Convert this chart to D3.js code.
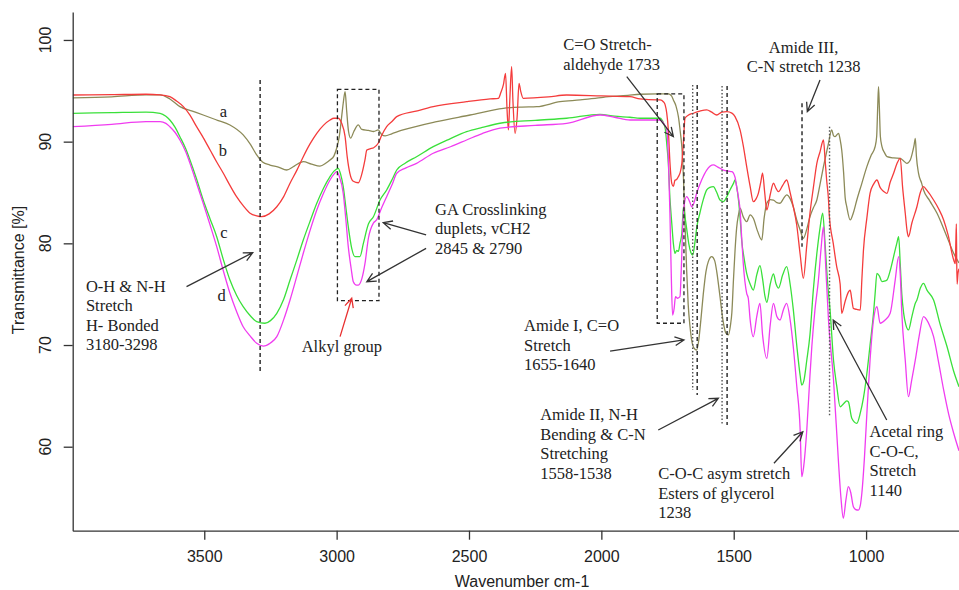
<!DOCTYPE html>
<html>
<head>
<meta charset="utf-8">
<script src="https://cdn.jsdelivr.net/npm/d3@7"></script>
<style>
  body { margin: 0; background: #fff; }
  svg { display: block; }
</style>
</head>
<body>
<div id="chart"></div>
<script>
// FTIR spectra, [wavenumber cm-1, transmittance %]
const seriesA = [[3997,94.3],[3850,94.4],[3720,94.6],[3667,94.6],[3630,94.2],[3592,93.44],[3545,93.0],[3504,92.62],[3450,92.1],[3403,91.64],[3353,90.66],[3325,89.7],[3302,88.69],[3280,88.0],[3252,87.7],[3220,87.5],[3189,87.21],[3160,87.6],[3126,88.03],[3095,87.8],[3063,87.6],[3040,87.9],[3025,88.2],[3010,88.6],[3000,89.35],[2990,90.5],[2981,92.46],[2975,93.8],[2968,94.92],[2962,93.0],[2955,91.0],[2947,90.35],[2935,91.0],[2918,91.64],[2905,91.2],[2880,91.1],[2860,91.0],[2843,91.15],[2830,90.7],[2817,90.56],[2790,90.8],[2749,91.15],[2622,91.97],[2496,92.62],[2370,93.28],[2300,93.4],[2244,93.44],[2156,93.93],[2080,94.1],[1993,94.36],[1900,94.55],[1854,94.66],[1790,94.69],[1747,94.69],[1735,94.5],[1728,94.1],[1718,93.5],[1709,92.46],[1702,91],[1696,89.5],[1690,86.5],[1684,82],[1678,77.5],[1672,74],[1665,71.8],[1659,70.5],[1650,69.7],[1640,69.51],[1633,70.3],[1624,72.5],[1615,75],[1605,77.2],[1596,78.2],[1583,78.69],[1572,78.3],[1564,77.2],[1552,74.8],[1541,72.5],[1530,71.2],[1520,70.99],[1512,72.0],[1507,73.2],[1501,76.39],[1495,79.3],[1489,81.5],[1482,82.8],[1476,83.45],[1464,82.6],[1451,82.13],[1438,82.8],[1426,82.46],[1410,81.2],[1394,80.33],[1385,82.5],[1375,83.94],[1362,84.3],[1350,84.26],[1337,84.0],[1325,83.94],[1312,84.4],[1300,84.76],[1287,84.4],[1275,83.6],[1262,82.3],[1249,81.31],[1237,80.5],[1224,81.4],[1212,82.62],[1199,83.5],[1186,84.26],[1174,85.8],[1161,87.54],[1149,89.0],[1142,89.84],[1130,91.15],[1123,90.6],[1117,90.49],[1104,90.82],[1098,90.2],[1092,89.18],[1085,87],[1079,84.5],[1073,83.6],[1060,82.3],[1048,83.0],[1035,84.26],[1016,85.9],[997,87.54],[980,88.7],[966,89.5],[960,90.5],[956,93.5],[953,95.41],[950,93.5],[946,90.5],[940,89.51],[930,88.9],[921,88.52],[896,88.4],[871,88.36],[858,88.1],[846,87.87],[833,88.2],[826,88.8],[819,89.6],[814,90.33],[810,88.6],[802,86.9],[790,85.9],[783,85.25],[760,84.2],[732,82.96],[700,81.0],[669,79.02],[649,78.07]];

const seriesB = [[3997,94.59],[3850,94.62],[3720,94.66],[3667,94.6],[3630,94.42],[3605,94.0],[3579,93.44],[3554,92.6],[3529,91.47],[3504,90.4],[3478,89.18],[3453,88.0],[3428,86.89],[3403,85.7],[3378,84.59],[3353,83.7],[3327,82.96],[3302,82.7],[3283,82.62],[3255,82.9],[3226,83.6],[3200,84.6],[3176,85.91],[3150,87.2],[3126,88.52],[3100,89.8],[3075,90.82],[3050,91.6],[3025,92.13],[3010,92.3],[2994,92.3],[2981,91.8],[2968,90.49],[2960,88.5],[2950,86.89],[2937,86.1],[2918,85.96],[2905,86.8],[2893,88.2],[2886,89.18],[2874,89.3],[2860,89.4],[2843,89.84],[2830,90.6],[2811,91.47],[2790,92.0],[2773,92.46],[2700,93.0],[2635,93.44],[2509,93.93],[2420,94.2],[2389,94.26],[2380,94.8],[2370,95.6],[2362,96.72],[2356,93.0],[2351,91.15],[2346,94],[2339,97.38],[2334,94],[2326,90.82],[2318,92.5],[2311,95.74],[2305,95.0],[2295,94.26],[2200,94.4],[2131,94.59],[2000,94.5],[1892,94.42],[1854,94.2],[1790,94.1],[1778,94.1],[1765,93.9],[1759,93.61],[1753,92.8],[1747,91.15],[1741,88.0],[1734,85.9],[1728,85.6],[1722,86.2],[1715,86.3],[1709,86.56],[1703,86.9],[1696,87.87],[1690,90.0],[1684,92.3],[1672,92.6],[1653,92.79],[1628,93.0],[1602,93.12],[1583,92.9],[1564,92.62],[1545,92.9],[1526,92.95],[1507,92.8],[1495,92.46],[1476,91.15],[1464,89.6],[1451,87.54],[1438,85.6],[1426,84.1],[1415,84.4],[1407,84.92],[1398,86.0],[1391,86.89],[1383,85.0],[1375,83.28],[1362,84.8],[1350,85.91],[1340,85.4],[1331,85.08],[1315,85.7],[1300,86.23],[1287,85.0],[1275,83.6],[1262,81.8],[1249,78.9],[1237,76.56],[1224,79.8],[1212,82.96],[1199,85.5],[1186,87.87],[1174,89.0],[1161,90.16],[1155,88.3],[1149,86.23],[1142,84.3],[1139,82.79],[1124,80.0],[1111,77.7],[1098,76.0],[1092,73.12],[1079,74.3],[1067,75.2],[1060,75.4],[1054,74.5],[1048,73.6],[1035,73.5],[1022,73.44],[1016,76.39],[1010,79.3],[997,82.5],[985,84.92],[972,85.8],[959,86.23],[947,85.5],[940,85.25],[928,85.0],[921,84.92],[909,86.0],[896,86.89],[884,87.8],[871,88.36],[862,85.5],[852,82.96],[845,81.2],[840,80.65],[827,82.0],[808,83.6],[795,85.0],[783,85.57],[770,85.2],[745,84.26],[726,83.4],[707,82.3],[690,80.8],[669,78.36],[663,78.0],[661,80.0],[659,81.9],[657.5,78.0],[656,76.0],[653,77.0],[649,77.5]];

const seriesC = [[3997,92.79],[3850,92.85],[3720,92.9],[3667,92.79],[3645,92.5],[3630,92.13],[3610,91.4],[3592,90.49],[3570,89.3],[3554,88.2],[3530,86.4],[3504,84.26],[3478,82.4],[3453,80.65],[3428,78.4],[3403,76.39],[3378,74.9],[3353,73.77],[3327,72.9],[3302,72.3],[3271,72.14],[3250,72.4],[3226,73.12],[3200,74.5],[3176,76.39],[3150,78.4],[3126,80.33],[3100,82.2],[3075,83.94],[3050,85.4],[3025,86.56],[3010,87.1],[2994,87.38],[2985,86.8],[2975,85.57],[2965,83.5],[2956,81.64],[2943,79.5],[2931,78.69],[2912,78.69],[2899,80.0],[2880,81.9],[2861,82.62],[2836,84.26],[2811,85.25],[2790,86.3],[2773,87.21],[2740,87.9],[2698,88.52],[2635,89.51],[2570,90.3],[2509,90.98],[2450,91.4],[2383,91.81],[2250,92.1],[2131,92.3],[2005,92.69],[1950,92.5],[1892,92.4],[1854,92.3],[1778,92.3],[1765,91.8],[1759,91.32],[1753,89.8],[1747,87.87],[1741,84.5],[1734,81.97],[1728,80.0],[1722,79.02],[1715,79.3],[1709,79.2],[1703,80.0],[1696,80.99],[1690,83.6],[1684,82.6],[1678,81.5],[1670,80.0],[1662,79.1],[1655,78.85],[1646,80.2],[1640,81.5],[1628,82.96],[1615,84.3],[1602,85.25],[1590,85.5],[1577,85.57],[1564,85.0],[1552,84.26],[1539,84.1],[1526,84.6],[1514,85.25],[1501,85.9],[1495,86.23],[1489,85.6],[1482,84.26],[1476,82.5],[1470,80.33],[1460,78.4],[1451,77.05],[1438,76.0],[1426,75.4],[1413,76.9],[1401,77.8],[1391,76.5],[1382,74.8],[1375,74.2],[1362,76.0],[1350,77.0],[1340,76.0],[1331,75.6],[1315,76.9],[1300,77.7],[1287,76.0],[1275,73.5],[1262,70.0],[1249,67.0],[1243,66.07],[1235,66.5],[1224,68.5],[1212,71.0],[1199,75.5],[1186,79.0],[1174,81.5],[1164,82.96],[1155,80.0],[1145,76.0],[1136,73.44],[1123,68.5],[1111,66.0],[1098,63.93],[1086,64.2],[1073,64.5],[1067,64.43],[1054,62.8],[1035,62.3],[1022,63.3],[1010,64.8],[997,67.2],[985,70.0],[972,73.12],[966,75.0],[959,77.05],[950,76.8],[940,76.23],[928,76.3],[921,76.39],[909,77.3],[896,78.7],[884,80.0],[877,80.65],[871,78.0],[865,75.0],[858,73.12],[850,72.0],[840,71.48],[827,72.8],[814,74.1],[808,74.43],[795,75.6],[783,76.07],[770,75.4],[745,74.43],[720,72.0],[694,69.83],[670,67.5],[649,65.9]];

const seriesD = [[3997,91.47],[3850,91.7],[3720,91.97],[3667,91.97],[3645,91.8],[3630,91.47],[3610,90.9],[3592,90.16],[3570,89.0],[3554,87.87],[3530,86.0],[3504,83.94],[3478,81.8],[3453,79.67],[3428,77.3],[3403,75.09],[3378,73.3],[3353,71.8],[3327,70.9],[3302,70.17],[3277,69.9],[3250,70.2],[3226,70.82],[3200,72.5],[3176,74.43],[3150,76.8],[3126,79.02],[3100,81.3],[3075,83.28],[3050,84.9],[3025,86.23],[3010,86.8],[3000,87.05],[2990,86.6],[2975,84.92],[2965,82.3],[2956,79.67],[2945,77.5],[2937,76.23],[2925,75.9],[2918,75.9],[2905,76.5],[2893,78.0],[2880,80.5],[2861,82.0],[2849,82.3],[2830,83.5],[2811,84.59],[2790,85.8],[2773,86.89],[2740,87.4],[2698,87.87],[2635,88.86],[2570,89.5],[2509,90.16],[2450,90.8],[2383,91.32],[2250,91.6],[2131,91.8],[2005,92.62],[1950,92.4],[1892,92.13],[1854,92.13],[1778,92.13],[1765,91.8],[1753,91.15],[1747,88.5],[1741,83.0],[1736,77.0],[1731,72.95],[1725,73.6],[1720,74.75],[1712,74.6],[1703,74.75],[1698,77.5],[1692,82.0],[1688,83.6],[1678,84.59],[1665,84.0],[1659,83.6],[1650,84.0],[1640,84.92],[1620,86.3],[1602,87.21],[1577,87.71],[1560,87.5],[1539,87.21],[1520,87.1],[1507,87.05],[1495,86.5],[1489,85.57],[1482,84.5],[1476,83.28],[1470,80.6],[1464,78.04],[1451,75.09],[1445,74.6],[1438,72.5],[1426,70.82],[1413,72.8],[1401,74.1],[1391,71.0],[1375,68.69],[1362,72.0],[1350,74.1],[1337,72.8],[1325,72.46],[1312,73.5],[1300,74.1],[1287,72.5],[1275,69.83],[1262,66.0],[1249,61.64],[1243,57.05],[1236,58.0],[1224,61.64],[1212,67.0],[1205,69.83],[1193,73.5],[1180,76.39],[1170,79.5],[1161,81.64],[1152,77.5],[1142,72.46],[1123,66.56],[1104,58.37],[1095,55.0],[1086,52.96],[1076,54.8],[1067,56.07],[1058,55.5],[1048,54.1],[1038,53.8],[1029,53.77],[1022,54.2],[1016,55.42],[1006,59.0],[997,63.28],[985,68.5],[972,72.46],[959,73.77],[947,72.14],[928,72.46],[909,73.12],[890,76.39],[877,78.69],[871,77.0],[865,73.12],[852,68.5],[840,64.92],[828,66.5],[814,68.53],[800,70.8],[783,72.79],[765,72.2],[745,70.82],[726,68.3],[707,65.58],[688,63.2],[669,61.32],[649,59.6]];

const seriesNames = ["a", "b", "c", "d"];
const seriesColors = ["#8c8a58", "#f43c3c", "#3ae03a", "#f03cf0"];
const xTicks = [3500, 3000, 2500, 2000, 1500, 1000];
const yTicks = [60, 70, 80, 90, 100];

// curve letters [name, wn, T]
const curveLabels = [["a", 3428, 92.43], ["b", 3430, 88.59], ["c", 3426, 80.48], ["d", 3434, 74.28]];

// band marker lines [wn, T top, T bottom, kind]
const bandLines = [[3289, 96.07, 67.25, "dash"], [1655, 95.57, 65.58, "dot"], [1638, 95.57, 65.08, "dash"],
                   [1544, 95.48, 62.13, "dot"], [1525, 95.48, 62.13, "dash"], [1242, 93.77, 79.67, "dash"],
                   [1138, 91.47, 62.95, "dot"]];
// dashed boxes [wn left, wn right, T top, T bottom]
const bandBoxes = [[2997, 2840, 95.15, 74.36], [1789, 1688, 94.69, 72.14]];

// arrows [wn from, T from, wn to, T to, colour]
const arrows = [[3567, 75.74, 3317, 79.08, "#333"], [2662, 80.82, 2824, 82.03, "#333"], [2662, 79.51, 2886, 76.23, "#333"],
                [2987, 70.82, 2943, 74.6, "#e83030"], [1904, 96.39, 1728, 90.49, "#333"], [1174, 96.07, 1222, 92.95, "#333"],
                [1967, 69.41, 1688, 70.5, "#333"], [1785, 61.64, 1558, 64.76, "#333"], [1348, 58.37, 1239, 61.47, "#333"],
                [922, 62.63, 1124, 72.46, "#333"]];

// notes [wn, T of first baseline, anchor, lines]
const notes = [
  [2144, 98.97, "start", ["C=O Stretch-", "aldehyde 1733"]],
  [1236, 98.74, "middle", ["Amide III,", "C-N stretch 1238"]],
  [2628, 82.79, "start", ["GA Crosslinking", "duplets, vCH2", "2845 & 2790"]],
  [3132, 69.29, "start", ["Alkyl group"]],
  [3947, 75.22, "start", ["O-H & N-H", "Stretch", "H- Bonded", "3180-3298"]],
  [2292, 71.33, "start", ["Amide I, C=O", "Stretch", "1655-1640"]],
  [2231, 62.58, "start", ["Amide II, N-H", "Bending & C-N", "Stretching", "1558-1538"]],
  [1785, 56.82, "start", ["C-O-C asym stretch", "Esters of glycerol", "1238"]],
  [987, 60.95, "start", ["Acetal ring", "C-O-C,", "Stretch", "1140"]]
];

const width = 959, height = 590;
const plotLeft = 72.7, plotRight = 959, plotTop = 12, plotBottom = 530.7;

const x = d3.scaleLinear().domain([3997, 649]).range([plotLeft, plotRight]);
const y = d3.scaleLinear().domain([51.74, 102.75]).range([plotBottom, plotTop]);

const svg = d3.select("#chart").append("svg")
  .attr("width", width).attr("height", height)
  .style("background", "#fff");

svg.append("defs").append("clipPath").attr("id", "plotclip")
  .append("rect").attr("x", plotLeft).attr("y", plotTop)
  .attr("width", plotRight - plotLeft).attr("height", plotBottom - plotTop);

const serif = "'Liberation Serif', 'Times New Roman', serif";
const sans = "'Liberation Sans', Arial, sans-serif";

// spectra
const line = d3.line().x(d => x(d[0])).y(d => y(d[1])).curve(d3.curveMonotoneX);
const curves = svg.append("g").attr("clip-path", "url(#plotclip)");
[seriesA, seriesB, seriesC, seriesD].forEach((s, i) => {
  curves.append("path")
    .datum(s)
    .attr("fill", "none")
    .attr("stroke", seriesColors[i])
    .attr("stroke-width", 1.3)
    .attr("stroke-linejoin", "round")
    .attr("d", line);
});

// axes
const xAxis = d3.axisBottom(x).tickValues(xTicks).tickFormat(d3.format("d"))
  .tickSize(9).tickPadding(11).tickSizeOuter(0);
const gx = svg.append("g").attr("transform", `translate(0,${plotBottom})`).call(xAxis);
gx.select(".domain").attr("stroke", "#333").attr("stroke-width", 1.3);
gx.selectAll(".tick line").attr("stroke", "#333").attr("stroke-width", 1.3);
gx.selectAll(".tick text").attr("font-family", sans).attr("font-size", 16).attr("fill", "#222");

const yAxis = d3.axisLeft(y).tickValues(yTicks).tickSize(9).tickSizeOuter(0).tickFormat("");
const gy = svg.append("g").attr("transform", `translate(${plotLeft},0)`).call(yAxis);
gy.select(".domain").attr("stroke", "#333").attr("stroke-width", 1.3);
gy.selectAll(".tick line").attr("stroke", "#333").attr("stroke-width", 1.3);

svg.append("g").selectAll("text").data(yTicks).join("text")
  .attr("transform", d => `translate(51,${y(d)}) rotate(-90)`)
  .attr("text-anchor", "middle")
  .attr("font-family", sans).attr("font-size", 16).attr("fill", "#222")
  .text(d => d);

svg.append("text")
  .attr("transform", "translate(24,270) rotate(-90)")
  .attr("text-anchor", "middle")
  .attr("font-family", sans).attr("font-size", 16).attr("fill", "#222")
  .text("Transmittance [%]");

svg.append("text")
  .attr("x", 522).attr("y", 587)
  .attr("text-anchor", "middle")
  .attr("font-family", sans).attr("font-size", 16).attr("fill", "#222")
  .text("Wavenumber cm-1");

// band markers
const marks = svg.append("g");
bandLines.forEach(([wn, t0, t1, kind]) => {
  marks.append("line")
    .attr("x1", x(wn)).attr("x2", x(wn))
    .attr("y1", y(t0)).attr("y2", y(t1))
    .attr("stroke", kind === "dash" ? "#222" : "#555")
    .attr("stroke-width", 1.4)
    .attr("stroke-dasharray", kind === "dash" ? "4,3" : "1.5,2");
});
bandBoxes.forEach(([w0, w1, t0, t1]) => {
  marks.append("rect")
    .attr("x", x(w0)).attr("y", y(t0))
    .attr("width", x(w1) - x(w0)).attr("height", y(t1) - y(t0))
    .attr("fill", "none").attr("stroke", "#222")
    .attr("stroke-width", 1.3).attr("stroke-dasharray", "4,3");
});

// arrows with open heads
arrows.forEach(([w0, t0, w1, t1, col]) => {
  const x0 = x(w0), y0 = y(t0), x1 = x(w1), y1 = y(t1);
  const a = Math.atan2(y1 - y0, x1 - x0);
  const len = 10, spread = Math.PI / 7;
  const h1 = [x1 - len * Math.cos(a - spread), y1 - len * Math.sin(a - spread)];
  const h2 = [x1 - len * Math.cos(a + spread), y1 - len * Math.sin(a + spread)];
  marks.append("path")
    .attr("d", `M${x0},${y0}L${x1},${y1}M${h1[0]},${h1[1]}L${x1},${y1}L${h2[0]},${h2[1]}`)
    .attr("fill", "none").attr("stroke", col).attr("stroke-width", 1.3);
});

// notes
notes.forEach(([wn, t, anchor, lines]) => {
  const tx = svg.append("text")
    .attr("font-family", serif).attr("font-size", 16.5).attr("fill", "#222")
    .attr("text-anchor", anchor);
  lines.forEach((s, i) => {
    tx.append("tspan").attr("x", x(wn)).attr("y", y(t) + i * 19.5).text(s);
  });
});

svg.append("g").selectAll("text").data(curveLabels).join("text")
  .attr("x", d => x(d[1])).attr("y", d => y(d[2]))
  .attr("text-anchor", "middle")
  .attr("font-family", serif).attr("font-size", 16.5).attr("fill", "#222")
  .text(d => d[0]);
</script>
</body>
</html>
